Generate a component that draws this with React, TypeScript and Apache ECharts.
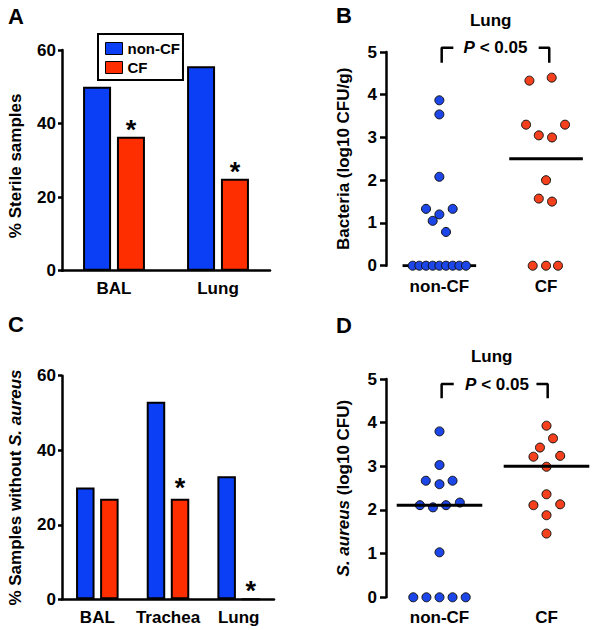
import React, { useEffect, useRef } from "react";
import * as echarts from "echarts";

// ---------- data ----------
const barCatsA = ["BAL", "Lung"];
const sterileNonCF = [50, 55.6];
const sterileCF = [36.4, 25];
const sigA = [true, true];

const barCatsC = ["BAL", "Trachea", "Lung"];
const noSaNonCF = [30, 53, 33];
const noSaCF = [27, 27, 0];
const sigC = [false, true, true];

const groups = ["non-CF", "CF"];

// Panel B: lung bacteria (log10 CFU/g)
const bactNonCF = [3.87, 3.54, 2.08, 1.33, 1.33, 1.2, 1.05, 0.79, 0, 0, 0, 0, 0, 0, 0, 0, 0];
const bactNonCFJitter = [0, 0, 0, -0.125, 0.125, 0, -0.0625, 0.0625, -0.25, -0.1875, -0.125, -0.0625, 0, 0.0625, 0.125, 0.1875, 0.25];
const bactCF = [4.33, 4.4, 3.3, 3.3, 3.05, 3.0, 2.0, 1.57, 1.5, 0, 0, 0];
const bactCFJitter = [-0.156, 0.053, -0.187, 0.178, -0.068, 0.056, 0, -0.068, 0.056, -0.125, 0, 0.112];
const bactMedians = [0, 2.5];

// Panel D: lung S. aureus (log10 CFU)
const saNonCF = [3.8, 3.03, 2.67, 2.67, 2.59, 2.11, 2.06, 2.11, 2.17, 1.03, 0, 0, 0, 0, 0];
const saNonCFJitter = [0, 0, -0.128, 0.122, 0, -0.183, -0.061, 0.061, 0.19, 0, -0.245, -0.122, 0, 0.122, 0.245];
const saCF = [3.93, 3.64, 3.43, 3.22, 3.24, 2.99, 2.36, 2.11, 2.13, 1.88, 1.46];
const saCFJitter = [0, 0.061, -0.061, -0.122, 0.128, 0, 0, -0.122, 0.128, 0, 0];
const saMedians = [2.11, 3.0];

// ---------- style ----------
const FONT = "Liberation Sans, Arial, Helvetica, sans-serif";
const BAR_BLUE = "#0b3ff6";
const BAR_RED = "#ff2e00";
const DOT_BLUE = "#1c46e8";
const DOT_RED = "#f4401c";
const AXW = 2.5;

const txt = { color: "#000", fontFamily: FONT, fontWeight: "bold" as const, fontSize: 17 };

function pts(vals: number[], jit: number[], g: number) {
  return vals.map((v, i) => [g + jit[i], v]);
}

function starLabel(show: boolean, dist: number) {
  return show
    ? { show: true, position: "top", formatter: "*", distance: dist, lineHeight: 12, color: "#000", fontFamily: FONT, fontWeight: "bold", fontSize: 27 }
    : { show: false };
}

function catX(gi: number, data: string[], margin: number) {
  return {
    gridIndex: gi, type: "category", data,
    axisLine: { show: true, lineStyle: { color: "#000", width: AXW } },
    axisTick: { show: false },
    axisLabel: { ...txt, margin, interval: 0 },
  };
}
function valX(gi: number, margin: number) {
  return {
    gridIndex: gi, type: "value", min: 0.5, max: 2.5,
    axisLine: { show: false }, axisTick: { show: false }, splitLine: { show: false },
    axisLabel: { ...txt, margin, customValues: [1, 2], formatter: (v: number) => groups[Math.round(v) - 1] },
  };
}
function valY(gi: number, max: number, interval: number, name: string, nameGap: number, tickLen: number, labelMargin: number, rich?: any, padding?: number[]) {
  return {
    gridIndex: gi, type: "value", min: 0, max, interval,
    axisLine: { show: true, lineStyle: { color: "#000", width: AXW } },
    axisTick: { show: true, length: tickLen, lineStyle: { color: "#000", width: AXW } },
    splitLine: { show: false },
    axisLabel: { ...txt, margin: labelMargin },
    name, nameLocation: "middle", nameGap,
    nameTextStyle: { ...txt, rich, padding: padding || 0 },
  };
}

function medianLine(gi: number, medians: number[], half: number, z: number) {
  return medians.map((m, i) => ({
    type: "line", xAxisIndex: gi, yAxisIndex: gi, z,
    data: [[i + 1 - half, m], [i + 1 + half, m]],
    symbol: "none", lineStyle: { color: "#000", width: 3 }, silent: true,
  }));
}
function bracket(gi: number, l: number, li: number, ri: number, r: number, top: number, bot: number) {
  const ls = { color: "#000", width: 2.5 };
  return [
    { type: "line", xAxisIndex: gi, yAxisIndex: gi, clip: false, symbol: "none", lineStyle: ls, data: [[l, bot], [l, top], [li, top]] },
    { type: "line", xAxisIndex: gi, yAxisIndex: gi, clip: false, symbol: "none", lineStyle: ls, data: [[ri, top], [r, top], [r, bot]] },
  ];
}
function dots(gi: number, data: number[][], color: string, z: number) {
  return {
    type: "scatter", xAxisIndex: gi, yAxisIndex: gi, z, data, symbolSize: 9,
    itemStyle: { color, borderColor: "#111", borderWidth: 1, opacity: 1 },
  };
}
function label(text: string, x: number, y: number, size: number, align = "center") {
  return {
    type: "text", x, y,
    style: { text, fill: "#000", font: `bold ${size}px ${FONT}`, textAlign: align, align, textVerticalAlign: "middle", verticalAlign: "middle" },
  };
}
function pLabel(x: number, y: number) {
  return {
    type: "text", x, y,
    style: {
      text: "{i|P}{n| < 0.05}", fill: "#000", textAlign: "center", align: "center", textVerticalAlign: "middle", verticalAlign: "middle",
      rich: {
        i: { fontFamily: FONT, fontWeight: "bold", fontStyle: "italic", fontSize: 17, fill: "#000", color: "#000" },
        n: { fontFamily: FONT, fontWeight: "bold", fontSize: 17, fill: "#000", color: "#000" },
      },
    },
  };
}

export default function App() {
  const ref = useRef<HTMLDivElement>(null);
  useEffect(() => {
    if (!ref.current) return;
    const chart = echarts.init(ref.current, null, { renderer: "svg" });
    const richIt = {
      n: { ...txt },
      i: { ...txt, fontStyle: "italic" },
    };
    const option: any = {
      animation: false,
      backgroundColor: "#fff",
      grid: [
        { left: 62, top: 50, width: 208, height: 220.7 },
        { left: 386, top: 52, width: 213.4, height: 213.7 },
        { left: 62, top: 375.7, width: 212, height: 223.6 },
        { left: 386, top: 379, width: 218, height: 218.3 },
      ],
      legend: {
        data: ["non-CF", "CF"],
        orient: "vertical", left: 98, top: 34,
        padding: [7, 3, 5, 7], itemGap: 4, itemWidth: 17, itemHeight: 12,
        borderColor: "#000", borderWidth: 2, borderRadius: 0,
        selectedMode: false,
        textStyle: { ...txt, fontSize: 15 },
        itemStyle: { borderColor: "#000", borderWidth: 1 },
        icon: "rect",
      },
      xAxis: [catX(0, barCatsA, 9), valX(1, 12), catX(2, barCatsC, 9.5), valX(3, 12)],
      yAxis: [
        valY(0, 60, 20, "% Sterile samples", 38, 4, 6, undefined, [0, 11, 0, 0]),
        valY(1, 5, 1, "Bacteria (log10 CFU/g)", 34, 6, 9),
        valY(2, 60, 20, "{n|% Samples without }{i|S. aureus}", 38, 4, 6, richIt),
        valY(3, 5, 1, "{i|S. aureus}{n| (log10 CFU)}", 34, 6, 9, richIt),
      ],
      series: [
        {
          type: "bar", name: "non-CF", xAxisIndex: 0, yAxisIndex: 0, data: sterileNonCF,
          barWidth: 28, barGap: "21%", itemStyle: { color: BAR_BLUE, borderColor: "#000", borderWidth: 2 },
        },
        {
          type: "bar", name: "CF", xAxisIndex: 0, yAxisIndex: 0,
          data: sterileCF.map((v, i) => ({ value: v, label: starLabel(sigA[i], 1) })),
          barWidth: 28, itemStyle: { color: BAR_RED, borderColor: "#000", borderWidth: 2 },
        },
        {
          type: "bar", name: "non-CF", xAxisIndex: 2, yAxisIndex: 2, data: noSaNonCF,
          barWidth: 18.5, barGap: "30%", itemStyle: { color: BAR_BLUE, borderColor: "#000", borderWidth: 2 },
        },
        {
          type: "bar", name: "CF", xAxisIndex: 2, yAxisIndex: 2,
          data: noSaCF.map((v, i) => ({ value: v, label: starLabel(sigC[i], i === 1 ? 5 : 1) })),
          barWidth: 18.5, itemStyle: { color: BAR_RED, borderColor: "#000", borderWidth: 2 },
        },
        ...medianLine(1, bactMedians, 0.345, 2),
        dots(1, pts(bactNonCF, bactNonCFJitter, 1), DOT_BLUE, 3),
        dots(1, pts(bactCF, bactCFJitter, 2), DOT_RED, 3),
        ...bracket(1, 1.022, 1.131, 1.931, 2.03, 5.1, 4.75),
        dots(3, pts(saNonCF, saNonCFJitter, 1), DOT_BLUE, 2),
        dots(3, pts(saCF, saCFJitter, 2), DOT_RED, 2),
        ...medianLine(3, saMedians, 0.4, 4),
        ...bracket(3, 1.02, 1.133, 1.906, 2.011, 4.885, 4.56),
      ],
      graphic: [
        label("A", 8, 16, 22, "left"),
        label("B", 336, 15, 22, "left"),
        label("C", 8, 324, 22, "left"),
        label("D", 336, 325, 22, "left"),
        label("Lung", 490.7, 20.7, 17),
        label("Lung", 491.7, 356.7, 17),
        pLabel(495.5, 47.5),
        pLabel(497, 384),
      ],
    };
    chart.setOption(option);
    return () => chart.dispose();
  }, []);
  return <div ref={ref} style={{ position: "fixed", left: 0, top: 0, width: 600, height: 630, background: "#fff" }} />;
}
